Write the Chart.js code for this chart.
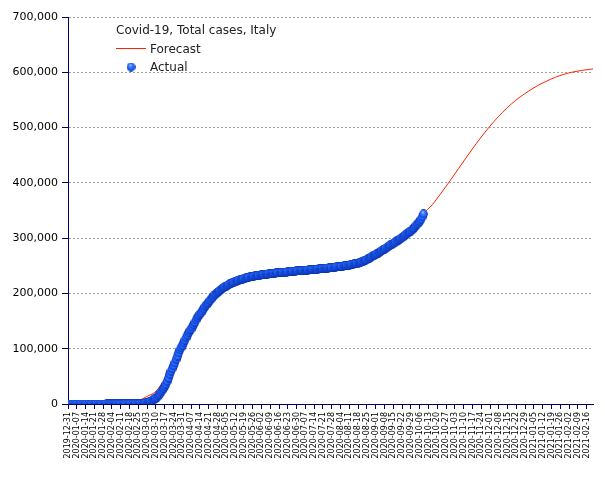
<!DOCTYPE html>
<html>
<head>
<meta charset="utf-8">
<script src="https://cdn.jsdelivr.net/npm/chart.js@4/dist/chart.umd.min.js"></script>
<style>
  html, body { margin: 0; padding: 0; background: #ffffff; }
  #wrap { width: 605px; height: 480px; position: relative; }
</style>
</head>
<body>
<div id="wrap"><canvas id="c" width="605" height="480"></canvas></div>
<script>
// ---- Data ----
// Weekly tick labels (every 7 days starting 2019-12-31)
const tickLabels = [
  "2019-12-31","2020-01-07","2020-01-14","2020-01-21","2020-01-28","2020-02-04","2020-02-11","2020-02-18","2020-02-25",
  "2020-03-03","2020-03-10","2020-03-17","2020-03-24","2020-03-31","2020-04-07","2020-04-14","2020-04-21","2020-04-28",
  "2020-05-05","2020-05-12","2020-05-19","2020-05-26","2020-06-02","2020-06-09","2020-06-16","2020-06-23","2020-06-30",
  "2020-07-07","2020-07-14","2020-07-21","2020-07-28","2020-08-04","2020-08-11","2020-08-18","2020-08-25","2020-09-01",
  "2020-09-08","2020-09-15","2020-09-22","2020-09-29","2020-10-06","2020-10-13","2020-10-20","2020-10-27","2020-11-03",
  "2020-11-10","2020-11-17","2020-11-24","2020-12-01","2020-12-08","2020-12-15","2020-12-22","2020-12-29","2021-01-05",
  "2021-01-12","2021-01-19","2021-01-26","2021-02-02","2021-02-09","2021-02-16"
];
const lastDay = 418; // 2021-02-21, days counted from 2019-12-31

// Actual total cases, one value per day from 2019-12-31 to 2020-10-09
const actualCases = [
  0,0,0,0,0,0,0,0,0,0, 0,0,0,0,0,0,0,0,0,0, 0,0,0,0,0,0,0,0,0,0, 0,
  2,2,2,2,2,2,2,
  3,3,3,3,3,3,3,3,3,3,3,3,3,3,
  20,79,157,229,323,470,655,888,1128,1694,2036,2502,3089,3858,4636,5883,7375,9172,
  10149,12462,15113,17660,21157,24747,27980,31506,35713,41035,47021,53578,59138,63927,
  69176,74386,80589,86498,92472,97689,101739,105792,110574,115242,119827,124632,128948,
  132547,135586,139422,143626,147577,152271,156363,159516,162488,165155,168941,172434,
  175925,178972,181228,183957,187327,189973,192994,195351,197675,199414,201505,203591,
  205463,207428,209328,210717,211938,213013,214457,215858,217185,218268,219070,219814,
  221216,222104,223096,223885,224760,225435,225886,226699,227364,228006,228658,229327,
  229858,230158,230555,231139,231732,232248,232664,233019,233197,233515,233836,234013,
  234531,234801,234998,235278,235561,235763,236142,236305,236651,236989,237290,237500,
  237828,238159,238011,238275,238499,238720,238833,239410,239706,239961,240136,240310,
  240436,240578,240760,240961,241184,241419,241611,241819,241956,242149,242363,242639,
  242827,243061,243230,243344,243506,243736,243967,244216,244434,244624,244752,245032,
  245338,245590,245864,246118,246286,246488,246776,247158,247537,247832,248070,248229,
  248419,248803,249204,249756,250103,250566,250825,251237,251713,252235,252809,253438,
  253915,254235,254636,255278,256118,257065,258136,259345,260298,261174,262540,263949,
  265409,267273,268218,269214,270189,271515,272912,274644,276338,277634,278784,280153,
  281583,283180,284796,286297,287753,288761,290190,291442,293025,294932,296569,298156,
  299506,300897,302537,304323,306235,308104,309870,311364,312894,314861,317409,319908,
  322751,325329,327586,330263,333940,338398,343770
];

// Forecast curve, sampled at these days
const forecastDays = [
  0,46,50,54,58,62,66,69,72,76,80,84,91,98,105,112,119,126,133,140,147,154,161,168,175,182,
  189,196,203,210,217,224,231,238,245,252,259,266,273,280,283,290,297,304,311,318,325,332,
  339,346,353,360,367,374,381,388,395,402,409,416,418
];
const forecastCases = [
  0,0,1500,4500,8000,12500,17000,21000,28000,42000,60000,78000,108000,137000,162000,184000,
  201000,212500,220500,226500,230500,233500,235600,237400,238900,240500,242000,243300,244800,
  246500,248400,251200,254700,261000,270000,280000,290200,300900,313000,330000,343000,360400,
  381200,403200,426000,448800,470800,491600,510600,527700,542700,555500,566300,576000,584000,
  591000,596500,600500,603300,605500,606000
];

const yTicks = [0,100000,200000,300000,400000,500000,600000,700000];

// ---- Styling helpers ----
function makeSphere(d) {
  const c = document.createElement('canvas');
  c.width = d; c.height = d;
  const g = c.getContext('2d');
  const r = d / 2;
  const grad = g.createRadialGradient(r * 0.85, r * 0.55, 0.2, r, r, r);
  grad.addColorStop(0, '#b0d2ff');
  grad.addColorStop(0.3, '#4585ff');
  grad.addColorStop(0.7, '#1c5cff');
  grad.addColorStop(1, '#062a96');
  g.fillStyle = grad;
  g.beginPath();
  g.arc(r, r, r - 0.1, 0, Math.PI * 2);
  g.fill();
  return c;
}
const sphere = makeSphere(9);
const legendSphere = makeSphere(9);

const navy = '#000066';
const FONT = 'DejaVu Sans';

const actualPts = actualCases.map((v, i) => ({ x: i, y: v }));
const forecastPts = forecastDays.map((d, i) => ({ x: d, y: forecastCases[i] }));

const legendPlugin = {
  id: 'customLegend',
  afterDraw(chart) {
    const ctx = chart.ctx;
    ctx.save();
    ctx.fillStyle = '#222';
    ctx.font = '12px "' + FONT + '"';
    ctx.textBaseline = 'alphabetic';
    ctx.textAlign = 'left';
    ctx.fillText('Covid-19, Total cases, Italy', 116, 34);
    ctx.strokeStyle = '#ff2200';
    ctx.lineWidth = 1;
    ctx.beginPath();
    ctx.moveTo(116, 48.5);
    ctx.lineTo(146, 48.5);
    ctx.stroke();
    ctx.fillText('Forecast', 150, 53);
    ctx.drawImage(legendSphere, 131 - 4.5, 67 - 4.5);
    ctx.fillText('Actual', 150, 71);
    ctx.restore();
  }
};

new Chart(document.getElementById('c'), {
  type: 'line',
  data: {
    datasets: [
      {
        label: 'Actual',
        data: actualPts,
        showLine: false,
        pointStyle: sphere,
        pointRadius: 4.5,
        order: 0
      },
      {
        label: 'Forecast',
        data: forecastPts,
        borderColor: '#ff2200',
        borderWidth: 1,
        pointRadius: 0,
        fill: false,
        cubicInterpolationMode: 'monotone',
        order: 1
      }
    ]
  },
  options: {
    responsive: false,
    animation: false,
    devicePixelRatio: 1,
    locale: 'en-US',
    layout: { padding: { top: 17, right: 12, left: 0, bottom: 0 } },
    plugins: {
      legend: { display: false },
      tooltip: { enabled: false }
    },
    scales: {
      x: {
        type: 'linear',
        min: 0,
        max: lastDay,
        afterFit(scale) { scale.height = 76; },
        grid: { drawOnChartArea: false, drawTicks: true, tickLength: 5, tickColor: navy, tickWidth: 1 },
        border: { color: navy, width: 1 },
        ticks: {
          stepSize: 7,
          includeBounds: false,
          autoSkip: false,
          minRotation: 90,
          maxRotation: 90,
          padding: 3,
          color: '#000',
          font: { family: FONT, size: 8 },
          callback(v) {
            const k = Math.round(v / 7);
            return tickLabels[k];
          }
        }
      },
      y: {
        min: 0,
        max: 700000,
        afterFit(scale) { scale.width = 68; },
        afterBuildTicks(scale) { scale.ticks = yTicks.map(v => ({ value: v })); },
        grid: { color: '#a0a0a0', lineWidth: 1, tickLength: 6, tickColor: navy, drawTicks: true },
        border: { color: navy, width: 1, dash: [2, 2] },
        ticks: {
          color: '#000',
          padding: 4,
          font: { family: FONT, size: 11 },
          callback(v) { return v.toLocaleString('en-US'); }
        }
      }
    }
  },
  plugins: [legendPlugin]
});
</script>
</body>
</html>
